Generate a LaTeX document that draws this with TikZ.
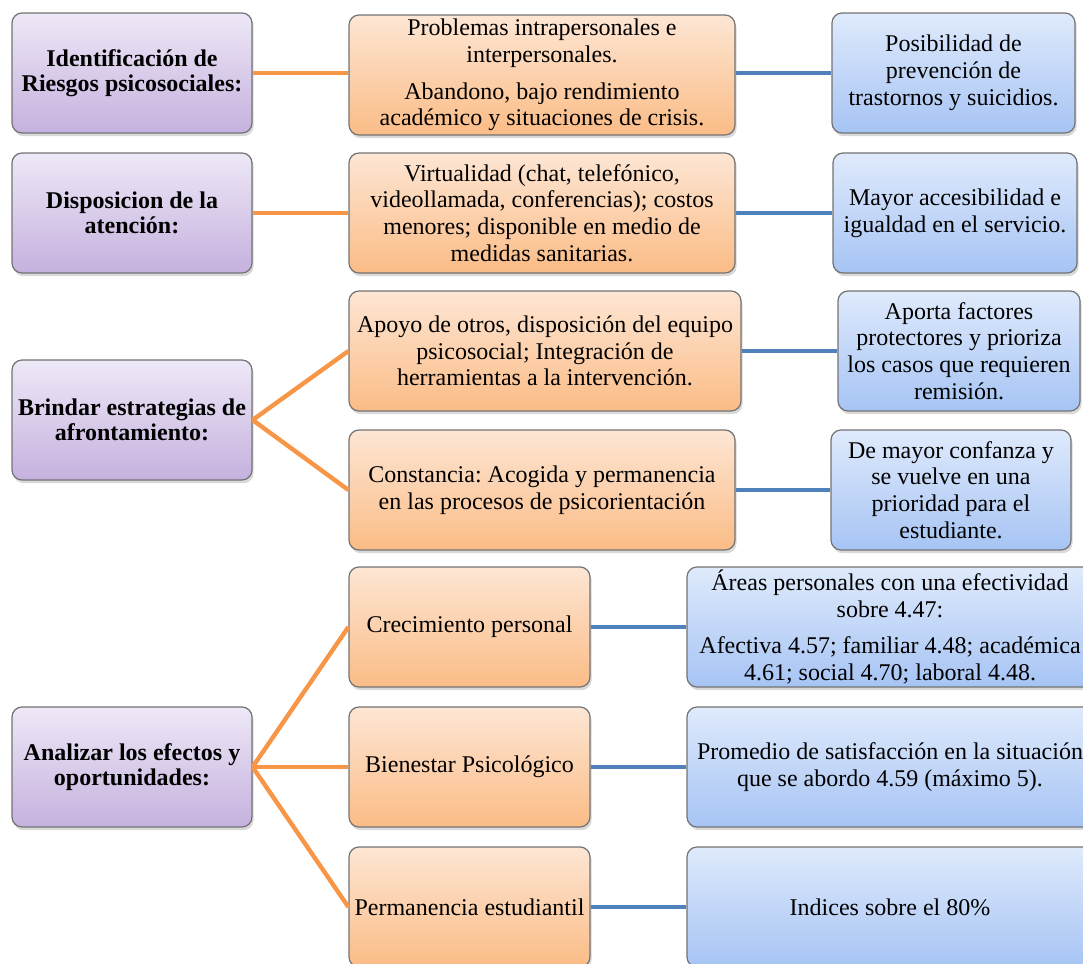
\documentclass[tikz,border=0pt]{standalone}
\usepackage{fontspec}
\setmainfont{Liberation Serif}
\frenchspacing
\usetikzlibrary{shadows}
\definecolor{pTop}{HTML}{EEE8F7}
\definecolor{pBot}{HTML}{C5B1DE}
\definecolor{oTop}{HTML}{FDE6D4}
\definecolor{oBot}{HTML}{FBBC86}
\definecolor{bTop}{HTML}{DFEAFC}
\definecolor{bBot}{HTML}{A6C4F4}
\definecolor{oLine}{HTML}{F79646}
\definecolor{bLine}{HTML}{4F81BD}
\tikzset{
  box/.style={draw=black!55, line width=0.6pt, rounded corners=5pt, align=center,
    inner sep=1pt, minimum height=60pt,
    drop shadow={opacity=0.3, shadow xshift=0.8pt, shadow yshift=-1.6pt}},
  lbox/.style={box, top color=pTop, bottom color=pBot, minimum width=120pt,
    font=\bfseries\fontsize{12}{12.8}\selectfont},
  mbox/.style={box, top color=oTop, bottom color=oBot,
    font=\fontsize{12}{13.4}\selectfont},
  rbox/.style={box, top color=bTop, bottom color=bBot,
    font=\fontsize{12}{13.4}\selectfont},
  oline/.style={draw=oLine, line width=2.2pt},
  bline/.style={draw=bLine, line width=2.2pt},
}
\begin{document}
\begin{tikzpicture}[x=0.5pt, y=-0.5pt]
\useasboundingbox (0,0) rectangle (1083,964);
\clip (0,0) rectangle (1083,964);
% row 1
\node[lbox] (L1) at (132,73) {Identificación de\\Riesgos psicosociales:};
\node[mbox, minimum width=193pt] (M1) at (542,75) {Problemas intrapersonales e\\interpersonales.\\[5pt]Abandono, bajo rendimiento\\académico y situaciones de crisis.};
\node[rbox, minimum width=121.5pt] (R1) at (953.5,73) {Posibilidad de\\prevención de\\trastornos y suicidios.};
% row 2
\node[lbox] (L2) at (132,213) {Disposicion de la\\atención:};
\node[mbox, minimum width=193pt] (M2) at (542,213) {Virtualidad (chat, telefónico,\\videollamada, conferencias); costos\\menores; disponible en medio de\\medidas sanitarias.};
\node[rbox, minimum width=122pt] (R2) at (955,213) {Mayor accesibilidad e\\igualdad en el servicio.};
% row 3
\node[lbox] (L3) at (132,420) {Brindar estrategias de\\afrontamiento:};
\node[mbox, minimum width=196pt] (M3a) at (545,351) {Apoyo de otros, disposición del equipo\\psicosocial; Integración de\\herramientas a la intervención.};
\node[rbox, minimum width=121pt] (R3a) at (959,351) {Aporta factores\\protectores y prioriza\\los casos que requieren\\remisión.};
\node[mbox, minimum width=193pt] (M3b) at (542,490) {Constancia: Acogida y permanencia\\en las procesos de psicorientación};
\node[rbox, minimum width=120pt] (R3b) at (951,490) {De mayor confanza y\\se vuelve en una\\prioridad para el\\estudiante.};
% row 4
\node[lbox] (L4) at (132,767) {Analizar los efectos y\\oportunidades:};
\node[mbox, minimum width=120.5pt] (M4a) at (469.5,627) {Crecimiento personal};
\node[mbox, minimum width=120.5pt] (M4b) at (469.5,767) {Bienestar Psicológico};
\node[mbox, minimum width=120.5pt] (M4c) at (469.5,907) {Permanencia estudiantil};
\node[rbox, minimum width=203pt] (R4a) at (890,627) {Áreas personales con una efectividad\\sobre 4.47:\\[5pt]Afectiva 4.57; familiar 4.48; académica\\4.61; social 4.70; laboral 4.48.};
\node[rbox, minimum width=203pt] (R4b) at (890,767) {Promedio de satisfacción en la situación\\que se abordo 4.59 (máximo 5).};
\node[rbox, minimum width=203pt] (R4c) at (890,907) {Indices sobre el 80\%};
% connectors
\draw[oline] (L1.east) -- (L1.east -| M1.west);
\draw[bline] (M1.east |- L1.east) -- (R1.west);
\draw[oline] (L2.east) -- (M2.west);
\draw[bline] (M2.east) -- (R2.west);
\draw[oline] (L3.east) -- (M3a.west);
\draw[oline] (L3.east) -- (M3b.west);
\draw[bline] (M3a.east) -- (R3a.west);
\draw[bline] (M3b.east) -- (R3b.west);
\draw[oline] (L4.east) -- (M4a.west);
\draw[oline] (L4.east) -- (M4b.west);
\draw[oline] (L4.east) -- (M4c.west);
\draw[bline] (M4a.east) -- (R4a.west);
\draw[bline] (M4b.east) -- (R4b.west);
\draw[bline] (M4c.east) -- (R4c.west);
\end{tikzpicture}
\end{document}
